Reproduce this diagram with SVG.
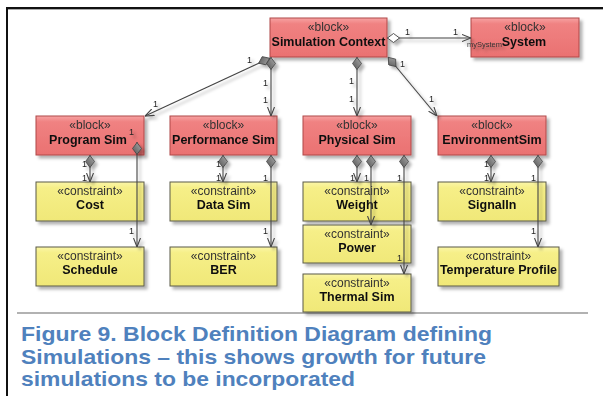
<svg xmlns="http://www.w3.org/2000/svg" width="603" height="396" viewBox="0 0 603 396">
<style>
.blk{fill:url(#gRed);stroke:#b04848;stroke-width:1}
.con{fill:url(#gYel);stroke:#5a5a48;stroke-width:1}
.st{font-family:"Liberation Sans",Arial,sans-serif;font-size:12px;fill:#333;text-anchor:middle}
.nm{font-family:"Liberation Sans",Arial,sans-serif;font-size:12.5px;font-weight:bold;fill:#111;text-anchor:middle}
.ln{fill:none;stroke:#444;stroke-width:1.1;marker-start:url(#dia);marker-end:url(#arr)}
.lb{font-family:"Liberation Sans",Arial,sans-serif;font-size:9px;fill:#222}
.cap{font-family:"Liberation Sans",Arial,sans-serif;font-size:20.5px;font-weight:bold;fill:#4f81bd}
</style>
<defs>
<linearGradient id="gRed" x1="0" y1="0" x2="0" y2="1">
<stop offset="0" stop-color="#f7a3a3"/><stop offset="0.15" stop-color="#f08282"/><stop offset="1" stop-color="#ea7171"/>
</linearGradient>
<linearGradient id="gYel" x1="0" y1="0" x2="0" y2="1">
<stop offset="0" stop-color="#fbf6a8"/><stop offset="0.15" stop-color="#f6ef88"/><stop offset="1" stop-color="#f0e878"/>
</linearGradient>
<linearGradient id="gDia" x1="0" y1="0" x2="1" y2="1">
<stop offset="0" stop-color="#aaa"/><stop offset="1" stop-color="#555"/>
</linearGradient>
<filter id="sh" x="-10%" y="-10%" width="130%" height="140%">
<feDropShadow dx="3" dy="3" stdDeviation="1.5" flood-color="#000" flood-opacity="0.3"/>
</filter>
<marker id="dia" markerUnits="userSpaceOnUse" viewBox="0 0 13 10" markerWidth="13" markerHeight="10" refX="0" refY="5" orient="auto">
<path d="M0.5,5 L6.5,0.5 L12.5,5 L6.5,9.5 Z" fill="url(#gDia)" stroke="#444" stroke-width="0.8"/>
</marker>
<marker id="hdia" markerUnits="userSpaceOnUse" viewBox="0 0 13 10" markerWidth="13" markerHeight="10" refX="0" refY="5" orient="auto">
<path d="M0.5,5 L6.5,0.5 L12.5,5 L6.5,9.5 Z" fill="#fff" stroke="#444" stroke-width="0.9"/>
</marker>
<marker id="arr" markerUnits="userSpaceOnUse" viewBox="0 0 9 8" markerWidth="9" markerHeight="8" refX="9" refY="4" orient="auto">
<path d="M0,0.5 L9,4 L0,7.5" fill="none" stroke="#444" stroke-width="1.1"/>
</marker>
</defs>
<rect width="603" height="396" fill="#fff"/>
<g id="frame">
<path d="M6,8 H603" stroke="#111" stroke-width="2" fill="none"/>
<path d="M6,9.5 H603" stroke="#aaa" stroke-width="1" fill="none"/>
<path d="M7,7 V396" stroke="#111" stroke-width="2" fill="none"/>
<path d="M17,313 H588" stroke="#666" stroke-width="1.2" fill="none"/>
</g>
<g id="nodes" filter="url(#sh)">
<g id="sim-context"><rect class="blk" x="270" y="18" width="117" height="39"/><text class="st" x="328.5" y="31">«block»</text><text class="nm" x="328.5" y="46">Simulation Context</text></g>
<g id="system"><rect class="blk" x="471" y="18" width="108" height="39"/><text class="st" x="525" y="31">«block»</text><text class="nm" x="524" y="46">System</text></g>
<g id="program-sim"><rect class="blk" x="36" y="116" width="108" height="39"/><text class="st" x="90" y="129">«block»</text><text class="nm" x="88" y="144">Program Sim</text></g>
<g id="performance-sim"><rect class="blk" x="170" y="116" width="107" height="39"/><text class="st" x="223.5" y="129">«block»</text><text class="nm" x="223.5" y="144">Performance Sim</text></g>
<g id="physical-sim"><rect class="blk" x="303" y="116" width="108" height="39"/><text class="st" x="357" y="129">«block»</text><text class="nm" x="357" y="144">Physical Sim</text></g>
<g id="environment-sim"><rect class="blk" x="438" y="116" width="108" height="39"/><text class="st" x="492" y="129">«block»</text><text class="nm" x="492" y="144">EnvironmentSim</text></g>
<g id="cost"><rect class="con" x="36" y="182" width="108" height="39"/><text class="st" x="90" y="195">«constraint»</text><text class="nm" x="90" y="209">Cost</text></g>
<g id="schedule"><rect class="con" x="36" y="247" width="108" height="39"/><text class="st" x="90" y="260">«constraint»</text><text class="nm" x="90" y="274">Schedule</text></g>
<g id="data-sim"><rect class="con" x="170" y="182" width="107" height="39"/><text class="st" x="223.5" y="195">«constraint»</text><text class="nm" x="223.5" y="209">Data Sim</text></g>
<g id="ber"><rect class="con" x="170" y="247" width="107" height="39"/><text class="st" x="223.5" y="260">«constraint»</text><text class="nm" x="223.5" y="274">BER</text></g>
<g id="weight"><rect class="con" x="303" y="182" width="108" height="39"/><text class="st" x="357" y="195">«constraint»</text><text class="nm" x="357" y="209">Weight</text></g>
<g id="power"><rect class="con" x="303" y="225" width="108" height="38"/><text class="st" x="357" y="238">«constraint»</text><text class="nm" x="357" y="252">Power</text></g>
<g id="thermal-sim"><rect class="con" x="303" y="274" width="108" height="38"/><text class="st" x="357" y="287">«constraint»</text><text class="nm" x="357" y="301">Thermal Sim</text></g>
<g id="signal-in"><rect class="con" x="438" y="182" width="108" height="39"/><text class="st" x="492" y="195">«constraint»</text><text class="nm" x="492" y="209">SignalIn</text></g>
<g id="temperature-profile"><rect class="con" x="438" y="247" width="121" height="39"/><text class="st" x="498.5" y="260">«constraint»</text><text class="nm" x="498.5" y="274">Temperature Profile</text></g>
</g>
<g id="connectors" filter="url(#sh)">
<path class="ln" d="M270,58 L145,116"/>
<path class="ln" d="M271,57 L271,116"/>
<path class="ln" d="M357,57 L357,116"/>
<path class="ln" d="M388,57 L437,116"/>
<path class="ln" style="marker-start:url(#hdia)" d="M387,38 L471,38"/>
<path class="ln" d="M90,155 L90,182"/>
<path class="ln" d="M137,142 L137,247"/>
<path class="ln" d="M223,155 L223,182"/>
<path class="ln" d="M271,155 L271,247"/>
<path class="ln" d="M357,155 L357,182"/>
<path class="ln" d="M371,155 L371,225"/>
<path class="ln" d="M404,155 L404,274"/>
<path class="ln" d="M491,155 L491,182"/>
<path class="ln" d="M538,155 L538,247"/>
<g id="labels">
<text class="lb" x="247" y="63">1</text><text class="lb" x="153" y="107">1</text>
<text class="lb" x="263" y="86">1</text><text class="lb" x="263" y="103">1</text>
<text class="lb" x="349" y="84">1</text><text class="lb" x="349" y="102">1</text>
<text class="lb" x="400" y="67">1</text><text class="lb" x="429" y="102">1</text>
<text class="lb" x="405" y="35">1</text><text class="lb" x="453" y="35">1</text>
<text class="lb" x="502" y="47" style="font-size:7.5px;text-anchor:end;fill:#333">mySystem</text>
<text class="lb" x="82" y="167">1</text><text class="lb" x="82" y="181">1</text>
<text class="lb" x="129" y="135">1</text><text class="lb" x="129" y="234">1</text>
<text class="lb" x="216" y="167">1</text><text class="lb" x="216" y="181">1</text>
<text class="lb" x="263" y="181">1</text><text class="lb" x="263" y="234">1</text>
<text class="lb" x="350" y="181">1</text>
<text class="lb" x="364" y="181">1</text>
<text class="lb" x="397" y="181">1</text><text class="lb" x="397" y="261">1</text>
<text class="lb" x="484" y="167">1</text><text class="lb" x="484" y="181">1</text>
<text class="lb" x="531" y="181">1</text><text class="lb" x="531" y="234">1</text>
</g>
</g>
<g id="caption">
<text class="cap" x="21" y="341" textLength="471" lengthAdjust="spacingAndGlyphs">Figure 9. Block Definition Diagram defining</text>
<text class="cap" x="21" y="363.5" textLength="465" lengthAdjust="spacingAndGlyphs">Simulations – this shows growth for future</text>
<text class="cap" x="21" y="386" textLength="334" lengthAdjust="spacingAndGlyphs">simulations to be incorporated</text>
</g>
</svg>
